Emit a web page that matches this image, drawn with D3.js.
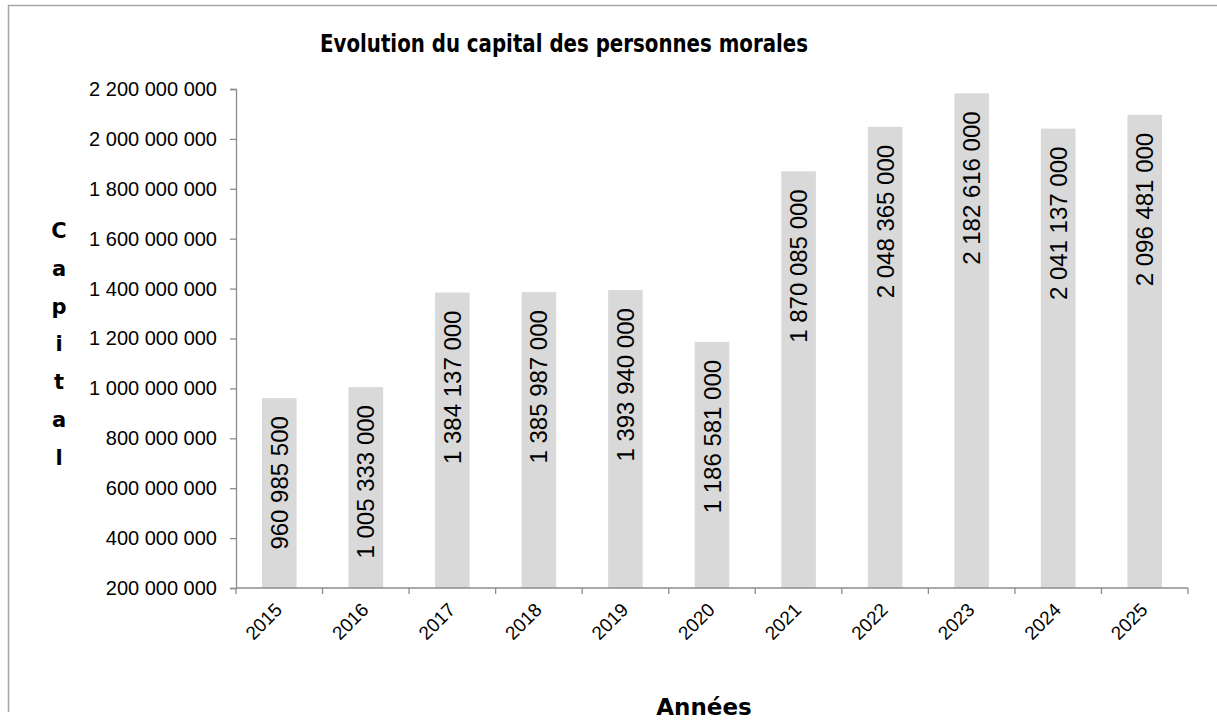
<!DOCTYPE html>
<html>
<head>
<meta charset="utf-8">
<script src="https://cdn.jsdelivr.net/npm/d3@7"></script>
<style>
  body { margin: 0; background: #fff; }
  svg { display: block; }
</style>
</head>
<body>
<div id="chart"></div>
<script>
// Data
var years = ["2015", "2016", "2017", "2018", "2019", "2020", "2021", "2022", "2023", "2024", "2025"];
var capital = [960985500, 1005333000, 1384137000, 1385987000, 1393940000, 1186581000,
               1870085000, 2048365000, 2182616000, 2041137000, 2096481000];
var yTicks = [200000000, 400000000, 600000000, 800000000, 1000000000, 1200000000,
              1400000000, 1600000000, 1800000000, 2000000000, 2200000000];
var yLabelLetters = ["C", "a", "p", "i", "t", "a", "l"];

var width = 1217, height = 721;
var plotLeft = 236, plotRight = 1188, plotTop = 89, plotBottom = 588;

var svg = d3.select("#chart").append("svg")
    .attr("width", width)
    .attr("height", height);

//Outer frame (only top and left visible in the picture)
svg.append("path")
    .attr("d", "M8.5,712 L8.5,5.5 L1217,5.5")
    .attr("fill", "none")
    .attr("stroke", "#a6a6a6")
    .attr("stroke-width", 1.5);

var locale = d3.formatLocale({ decimal: ",", thousands: " ", grouping: [3], currency: ["", ""] });
var fmt = locale.format(",d");

var x = d3.scaleBand().domain(years).range([plotLeft, plotRight]).paddingInner(0.6).paddingOuter(0.3);
var band = d3.scaleBand().domain(years).range([plotLeft, plotRight]);
var y = d3.scaleLinear().domain([200000000, 2200000000]).range([plotBottom, plotTop]);

//Bars
svg.append("g").selectAll("rect")
    .data(capital)
    .enter().append("rect")
    .attr("x", function(d, i) { return x(years[i]); })
    .attr("y", function(d) { return y(d); })
    .attr("width", x.bandwidth())
    .attr("height", function(d) { return plotBottom - y(d); })
    .attr("fill", "#d9d9d9");

//Y axis
var yAxis = svg.append("g")
    .attr("transform", "translate(" + plotLeft + ",0)")
    .call(d3.axisLeft(y).tickValues(yTicks).tickFormat(fmt).tickSize(6).tickPadding(13));
yAxis.selectAll("path, line").attr("stroke", "#8c8c8c").attr("stroke-width", 1.3);
yAxis.selectAll("text")
    .attr("font-family", "'Liberation Sans', Arial, sans-serif")
    .attr("font-size", 20)
    .attr("fill", "#000");

//X axis: ticks on category boundaries
var xAxis = svg.append("g").attr("transform", "translate(0," + plotBottom + ")");
xAxis.append("line")
    .attr("x1", plotLeft).attr("x2", plotRight)
    .attr("stroke", "#8c8c8c").attr("stroke-width", 1.3);
xAxis.selectAll(".tick")
    .data(years.concat(["end"]))
    .enter().append("line")
    .attr("x1", function(d, i) { return plotLeft + i * band.bandwidth(); })
    .attr("x2", function(d, i) { return plotLeft + i * band.bandwidth(); })
    .attr("y1", 0).attr("y2", 6)
    .attr("stroke", "#8c8c8c").attr("stroke-width", 1.3);
xAxis.selectAll("text")
    .data(years)
    .enter().append("text")
    .attr("transform", function(d) {
        return "translate(" + (band(d) + band.bandwidth() / 2 + 4) + ",23) rotate(-45)";
    })
    .attr("text-anchor", "end")
    .attr("font-family", "'Liberation Sans', Arial, sans-serif")
    .attr("font-size", 19)
    .text(function(d) { return d; });

//Value labels inside the bars
svg.append("g").selectAll("text")
    .data(capital)
    .enter().append("text")
    .attr("transform", function(d, i) {
        return "translate(" + (x(years[i]) + x.bandwidth() / 2 + 8.5) + "," + (y(d) + 18) + ") rotate(-90)";
    })
    .attr("text-anchor", "end")
    .attr("font-family", "'Liberation Sans', Arial, sans-serif")
    .attr("font-size", 24)
    .attr("fill", "#000")
    .text(function(d) { return fmt(d); });

//Title
svg.append("text")
    .attr("x", 564).attr("y", 52)
    .attr("text-anchor", "middle")
    .attr("font-family", "'DejaVu Sans', Verdana, sans-serif")
    .attr("font-weight", "bold")
    .attr("font-size", 24)
    .attr("textLength", 488)
    .attr("lengthAdjust", "spacingAndGlyphs")
    .text("Evolution du capital des personnes morales");

//X axis title
svg.append("text")
    .attr("x", 704).attr("y", 715)
    .attr("text-anchor", "middle")
    .attr("font-family", "'DejaVu Sans', Verdana, sans-serif")
    .attr("font-weight", "bold")
    .attr("font-size", 23)
    .text("Années");

//Y axis title, one letter per line
svg.append("g").selectAll("text")
    .data(yLabelLetters)
    .enter().append("text")
    .attr("x", 59)
    .attr("y", function(d, i) { return 238 + i * 37.8; })
    .attr("text-anchor", "middle")
    .attr("font-family", "'DejaVu Sans', Verdana, sans-serif")
    .attr("font-weight", "bold")
    .attr("font-size", 21)
    .text(function(d) { return d; });
</script>
</body>
</html>
